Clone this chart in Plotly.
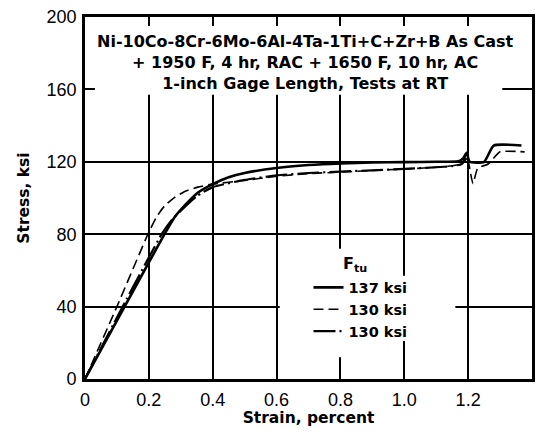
import plotly.graph_objects as go

# ---- data (strain in percent, stress in ksi) ----
solid_x = [0, 0.10, 0.20, 0.249, 0.28, 0.311, 0.353, 0.40, 0.45, 0.50, 0.60, 0.70, 0.80, 0.90, 1.00, 1.10, 1.17, 1.185, 1.195, 1.205, 1.25, 1.28, 1.367]
solid_y = [0, 32.2, 64.4, 80.0, 89.2, 95.6, 102.9, 107.7, 111.5, 113.8, 116.6, 118.2, 119.1, 119.6, 119.8, 120.0, 120.3, 122.0, 125.0, 120.0, 120.0, 129.0, 129.0]

dash_x = [0, 0.10, 0.197, 0.223, 0.249, 0.28, 0.311, 0.353, 0.40, 0.50, 0.60, 0.70, 0.80, 0.90, 1.00, 1.10, 1.15, 1.18, 1.195, 1.215, 1.23, 1.26, 1.27, 1.30, 1.377]
dash_y = [0, 40.0, 80.0, 89.2, 95.6, 100.2, 103.5, 106.0, 107.7, 109.7, 112.0, 113.5, 114.3, 115.2, 116.0, 117.0, 117.8, 119.0, 124.0, 108.0, 116.5, 118.5, 120.0, 125.5, 125.5]

dashdot_x = [0, 0.118, 0.24, 0.27, 0.30, 0.35, 0.40, 0.50, 0.60, 0.70, 0.80, 0.90, 1.00, 1.10, 1.15, 1.18, 1.195]
dashdot_y = [0, 40.0, 80.0, 87.5, 93.0, 101.0, 106.0, 110.0, 112.5, 113.8, 114.6, 115.3, 116.1, 117.0, 117.6, 118.8, 122.0]

series_names = ["137 ksi", "130 ksi", "130 ksi"]

x_ticks = [0, 0.2, 0.4, 0.6, 0.8, 1.0, 1.2, 1.4]
x_tick_text = ["0", "0.2", "0.4", "0.6", "0.8", "1.0", "1.2", "1.4"]
y_ticks = [0, 40, 80, 120, 160, 200]

title_text = ("Ni-10Co-8Cr-6Mo-6Al-4Ta-1Ti+C+Zr+B As Cast<br>"
              "+ 1950 F, 4 hr, RAC + 1650 F, 10 hr, AC<br>"
              "1-inch Gage Length, Tests at RT")

FONT = "Liberation Sans, Arial, sans-serif"
BFONT = "DejaVu Sans, Arial, sans-serif"

fig = go.Figure()
fig.add_trace(go.Scatter(x=solid_x, y=solid_y, mode="lines", name=series_names[0],
                         line=dict(color="black", width=2.6, shape="spline", smoothing=0.5)))
fig.add_trace(go.Scatter(x=dash_x, y=dash_y, mode="lines", name=series_names[1],
                         line=dict(color="black", width=1.6, dash="10px,5px", shape="spline", smoothing=0.5)))
fig.add_trace(go.Scatter(x=dashdot_x, y=dashdot_y, mode="lines", name=series_names[2],
                         line=dict(color="black", width=2.2, dash="22px,4px,2px,4px", shape="spline", smoothing=0.5)))

# white patches hiding grid behind the title block and legend
fig.add_shape(type="rect", xref="x", yref="y", x0=0.031, x1=1.307, y0=157, y1=195,
              fillcolor="white", line_width=0, layer="above")
fig.add_shape(type="rect", xref="x", yref="y", x0=0.61, x1=1.16, y0=21, y1=57,
              fillcolor="white", line_width=0, layer="above")
fig.add_shape(type="rect", xref="x", yref="y", x0=0.70, x1=0.90, y0=12, y1=72,
              fillcolor="white", line_width=0, layer="above")

fig.add_annotation(text="<b>" + title_text + "</b>", xref="x", yref="y", x=0.69, y=175,
                   showarrow=False, align="center",
                   font=dict(family=BFONT, size=16, color="black"))
fig.add_annotation(text="<b>F<sub>tu</sub></b>", xref="x", yref="y", x=0.845, y=63,
                   showarrow=False, font=dict(family=BFONT, size=16, color="black"))

axis_common = dict(showline=True, linecolor="black", linewidth=2.8, mirror=True,
                   showgrid=True, gridcolor="black", gridwidth=1.6, zeroline=False,
                   ticks="outside", ticklen=2, tickcolor="rgba(0,0,0,0)",
                   tickfont=dict(family=FONT, size=18, color="black"))

fig.update_xaxes(range=[0, 1.4], tickvals=x_ticks, ticktext=x_tick_text,
                 title=dict(text="<b>Strain, percent</b>", font=dict(family=BFONT, size=15.5, color="black"), standoff=2),
                 **axis_common)
fig.update_yaxes(range=[0, 200], tickvals=y_ticks,
                 title=dict(text="<b>Stress, ksi</b>", font=dict(family=BFONT, size=15.5, color="black"), standoff=14),
                 **axis_common)

fig.update_layout(
    width=542, height=435,
    margin=dict(l=85, r=7, t=15, b=56),
    paper_bgcolor="white", plot_bgcolor="white",
    showlegend=True,
    legend=dict(x=0.5, y=0.297, xanchor="left", yanchor="top", bgcolor="rgba(0,0,0,0)",
                font=dict(family=BFONT, size=14.5, color="black", weight="bold"), tracegroupgap=0,
                itemwidth=30),
)

fig.write_html("out.html")
